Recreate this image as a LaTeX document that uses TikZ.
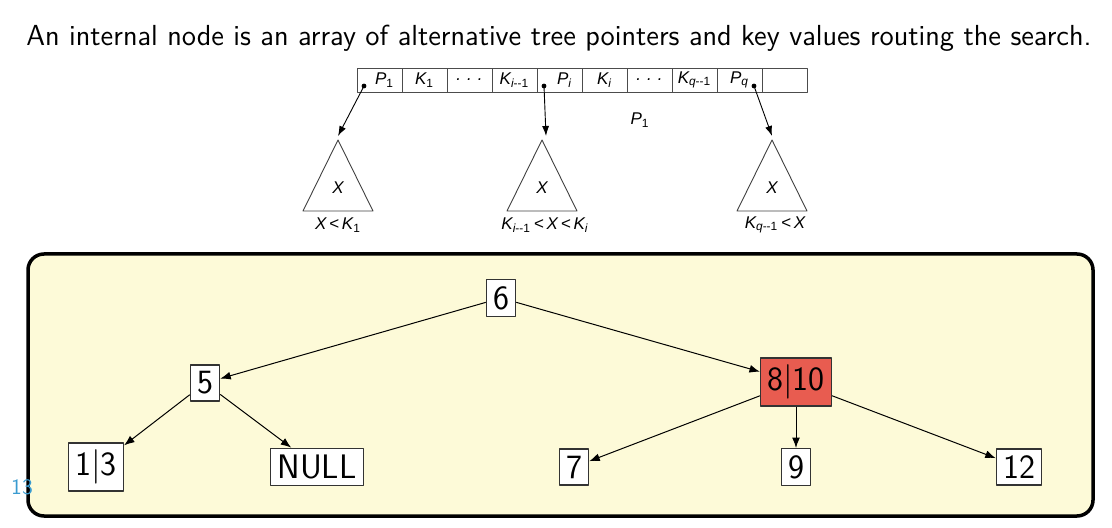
\documentclass[tikz,border=0pt]{standalone}
\usepackage{fontspec}
\newfontfamily\figfont{Liberation Sans}
\usetikzlibrary{arrows.meta,positioning}

\definecolor{panelbg}{HTML}{FDFAD8}
\definecolor{hotnode}{HTML}{E85C50}
\definecolor{slidenum}{HTML}{3A9BD0}

\begin{document}
\begin{tikzpicture}[
  x=0.5pt,y=-0.5pt,
  line join=round,
  >=Latex,
  key/.style={draw=black!80,line width=0.6pt,fill=white,inner sep=3.33pt,
    font=\sffamily\fontsize{17}{20}\selectfont},
  hot/.style={key,fill=hotnode},
  link/.style={->,line width=0.5pt},
  cell/.style={draw=black!70,line width=0.4pt,minimum width=22.5pt,
    minimum height=12pt,inner sep=0pt,font=\figfont\itshape\fontsize{8.5}{10}\selectfont},
  sub/.style={draw=black!75,line width=0.45pt},
  ptr/.style={-{Latex[length=5pt,width=3.5pt]},line width=0.45pt},
  fig/.style={font=\figfont\itshape\fontsize{8.5}{10}\selectfont}
]
\useasboundingbox (0,0) rectangle (1112,528);

% Heading
\node[font=\sffamily\fontsize{14.5}{17}\selectfont] (title) at (559,38)
  {An internal node is an array of alternative tree pointers and key values routing the search.};

% Internal node: one row of cells
\foreach \txt [count=\i] in {{\hspace{5pt}P\textsubscript{\upshape 1}},K\textsubscript{\upshape 1},
    {.\hspace{3pt}.\hspace{3pt}.},K\textsubscript{i\upshape --1},{\hspace{5pt}P\textsubscript{i}},
    K\textsubscript{i},{.\hspace{3pt}.\hspace{3pt}.},K\textsubscript{q\upshape --1},
    {P\textsubscript{q}\hspace{5pt}},{}}
  \node[cell] (c\i) at ({357+45*(\i-1)+22.5},80) {\txt};

% tree pointers
\coordinate (d1) at (364,86);
\coordinate (di) at (544,86);
\coordinate (dq) at (754,86);
\foreach \d in {d1,di,dq}
  \fill (\d) circle [radius=1.2pt];

% subtrees
\coordinate (t1) at (338,140);
\coordinate (ti) at (542,140);
\coordinate (tq) at (772,140);
\foreach \t in {t1,ti,tq}
  \draw[sub] (\t) -- ++(-35,71) -- ++(70,0) -- cycle;

\draw[ptr] (d1) -- ([yshift=2]t1);
\draw[ptr] (di) -- ([xshift=2,yshift=2]ti);
\draw[ptr] (dq) -- ([yshift=2]tq);

\node[fig] (x1) at (338,188) {X};
\node[fig] (xi) at (542,188) {X};
\node[fig] (xq) at (772,188) {X};

\node[fig] (r1) at (338,225) {X\,<\,K\textsubscript{\upshape 1}};
\node[fig] (ri) at (545,225) {K\textsubscript{i\upshape --1}\,<\,X\,<\,K\textsubscript{i}};
\node[fig] (rq) at (775,225) {K\textsubscript{q\upshape --1}\,<\,X};
\node[fig] (stray) at (640,120) {P\textsubscript{\upshape 1}};

% Example tree
\draw[line width=1.75pt,rounded corners=8pt,fill=panelbg] (28,254) rectangle (1093,516);

\node[key] (n6) at (501,298) {6};
\node[key] (n5) at (205,383) {5};
\node[hot] (n810) at (796,382) {8$|$10};
\node[key] (n13) at (96,467) {1$|$3};
\node[key] (null) at (317,467) {NULL};
\node[key] (n7) at (574,467) {7};
\node[key] (n9) at (796,467) {9};
\node[key] (n12) at (1019,467) {12};

\draw[link] (n6) -- (n5);
\draw[link] (n6) -- (n810);
\draw[link] (n5) -- (n13);
\draw[link] (n5) -- (null);
\draw[link] (n810) -- (n7);
\draw[link] (n810) -- (n9);
\draw[link] (n810) -- (n12);

\node[text=slidenum,font=\sffamily\fontsize{11}{13}\selectfont] (page) at (22,487) {13};

\end{tikzpicture}
\end{document}
